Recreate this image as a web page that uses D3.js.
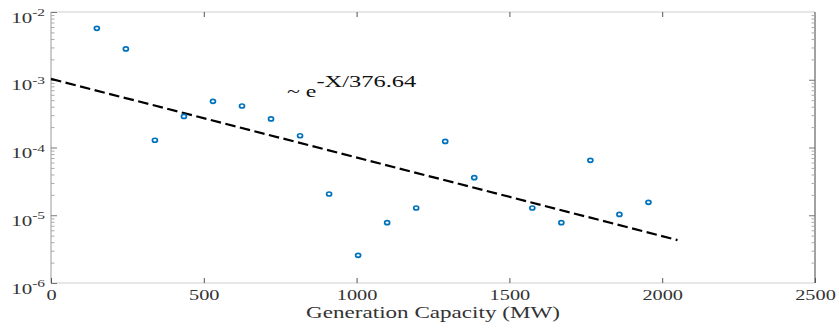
<html>
    <head>
        <script src="https://d3js.org/d3.v7.min.js"></script>
    </head>
    <body>
        <div id="chart"></div>

    <script>
    // generation capacity (MW) and observed frequency
    var capacity = [150, 245, 340, 435, 530, 625, 720, 815, 910, 1005, 1100, 1195, 1290, 1385, 1575, 1670, 1765, 1860, 1955];
    var frequency = [5.75e-3, 2.85e-3, 1.28e-4, 2.88e-4, 4.8e-4, 4.1e-4, 2.64e-4, 1.49e-4, 2.06e-5, 2.56e-6, 7.76e-6, 1.28e-5, 1.23e-4, 3.58e-5, 1.28e-5, 7.76e-6, 6.47e-5, 1.03e-5, 1.55e-5];

    // fitted exponential trend ~ e^(-X/376.64), end points (straight on log axis)
    var fitX = [0, 2050];
    var fitY = [1.03e-3, 4.3e-6];

    var xTicks = [0, 500, 1000, 1500, 2000, 2500];
    var yTicks = [1e-2, 1e-3, 1e-4, 1e-5, 1e-6];
    var yExponents = ['-2', '-3', '-4', '-5', '-6'];

    var width = 839,
        height = 331;
    var pLeft = 51, pRight = 815, pTop = 12, pBottom = 283;
    var SX = 1.4; // text in the original is stretched sideways
    var serif = '"Liberation Serif", "Times New Roman", serif';

    var svg = d3.select('#chart')
        .append('svg')
        .attr('width', width)
        .attr('height', height);

    var x = d3.scaleLinear().domain([0, 2500]).range([pLeft, pRight]);
    var y = d3.scaleLog().domain([1e-6, 1e-2]).range([pBottom, pTop]);

    var minors = [];
    yTicks.slice(1).forEach(function (d) {
        for (var k = 2; k <= 9; k++) minors.push(d * k);
    });

    // frame
    svg.append('line').attr('x1', pLeft).attr('x2', pRight).attr('y1', pTop).attr('y2', pTop).attr('stroke', '#cfcfcf');
    svg.append('line').attr('x1', pLeft).attr('x2', pRight).attr('y1', pBottom).attr('y2', pBottom).attr('stroke', '#cfcfcf');
    svg.append('line').attr('x1', pLeft).attr('x2', pLeft).attr('y1', pTop).attr('y2', pBottom).attr('stroke', '#9a9a9a');
    svg.append('line').attr('x1', pRight).attr('x2', pRight).attr('y1', pTop).attr('y2', pBottom).attr('stroke', '#444');

    // x axis bottom + top ticks
    var xAxis = svg.append('g')
        .attr('transform', 'translate(0,' + pBottom + ')')
        .call(d3.axisBottom(x).tickValues(xTicks).tickSize(-5).tickFormat(d3.format('d')));
    xAxis.attr('font-family', null);
    xAxis.select('.domain').remove();
    xAxis.selectAll('line').attr('stroke', '#555');
    xAxis.selectAll('text')
        .attr('y', 17)
        .attr('dy', null)
        .attr('transform', 'scale(' + SX + ',1)')
        .style('font-family', serif)
        .style('font-size', '14.5px')
        .attr('fill', '#333');

    var xTop = svg.append('g')
        .attr('transform', 'translate(0,' + pTop + ')')
        .call(d3.axisTop(x).tickValues(xTicks.slice(1, 5)).tickSize(-5).tickFormat(''));
    xTop.select('.domain').remove();
    xTop.selectAll('line').attr('stroke', '#555');

    // y axis, left
    var yAxis = svg.append('g')
        .attr('transform', 'translate(' + pLeft + ',0)')
        .call(d3.axisLeft(y).tickValues(yTicks).tickSize(-6).tickFormat(''));
    yAxis.attr('font-family', null);
    yAxis.select('.domain').remove();
    yAxis.selectAll('line').attr('stroke', '#777');
    yAxis.selectAll('text')
        .attr('x', -6 / SX)
        .attr('y', 0)
        .attr('dy', null)
        .attr('transform', 'scale(' + SX + ',1)')
        .style('font-family', serif)
        .attr('fill', '#333')
        .each(function (d, i) {
            var t = d3.select(this);
            t.append('tspan').attr('dy', 10).style('font-size', '15px').text('10');
            t.append('tspan').attr('dy', -6.5).style('font-size', '11px').text(yExponents[i]);
        });

    var yMinor = svg.append('g')
        .attr('transform', 'translate(' + pLeft + ',0)')
        .call(d3.axisLeft(y).tickValues(minors).tickSize(-3.5).tickFormat(''));
    yMinor.select('.domain').remove();
    yMinor.selectAll('line').attr('stroke', '#aaa');

    // y axis, right ticks
    var yRight = svg.append('g')
        .attr('transform', 'translate(' + pRight + ',0)')
        .call(d3.axisRight(y).tickValues(yTicks.slice(1, 4)).tickSize(-6).tickFormat(''));
    yRight.select('.domain').remove();
    yRight.selectAll('line').attr('stroke', '#777');
    var yRightMinor = svg.append('g')
        .attr('transform', 'translate(' + pRight + ',0)')
        .call(d3.axisRight(y).tickValues(minors).tickSize(-3.5).tickFormat(''));
    yRightMinor.select('.domain').remove();
    yRightMinor.selectAll('line').attr('stroke', '#aaa');

    // trend line
    svg.append('path')
        .datum(fitX.map(function (d, i) { return [d, fitY[i]]; }))
        .attr('d', d3.line().x(function (d) { return x(d[0]); }).y(function (d) { return y(d[1]); }))
        .attr('fill', 'none')
        .attr('stroke', '#000')
        .attr('stroke-width', 2.2)
        .attr('stroke-dasharray', '10.5,4.5');

    // points
    svg.selectAll('.pt')
        .data(capacity)
        .enter()
        .append('ellipse')
        .attr('class', 'pt')
        .attr('cx', function (d) { return x(d); })
        .attr('cy', function (d, i) { return y(frequency[i]); })
        .attr('rx', 2.5)
        .attr('ry', 2)
        .attr('fill', '#fff')
        .attr('stroke', '#0072BD')
        .attr('stroke-width', 1.7);

    // annotation
    var note = svg.append('text')
        .attr('transform', 'translate(287,97) scale(' + SX + ',1)')
        .style('font-family', serif)
        .attr('fill', '#111');
    note.append('tspan').style('font-size', '17px').text('~ e');
    note.append('tspan').attr('dy', -10).style('font-size', '17.5px').text('-X/376.64');

    // x label
    svg.append('text')
        .attr('transform', 'translate(' + (pLeft + pRight) / 2 + ',318) scale(' + SX + ',1)')
        .attr('text-anchor', 'middle')
        .style('font-family', serif)
        .style('font-size', '16.5px')
        .attr('fill', '#333')
        .text('Generation Capacity (MW)');
    </script>

    <style>
    * {
        margin: 0;
        padding: 0;
    }
    body {
        background: #fff;
    }
    </style>
    </body>
</html>
